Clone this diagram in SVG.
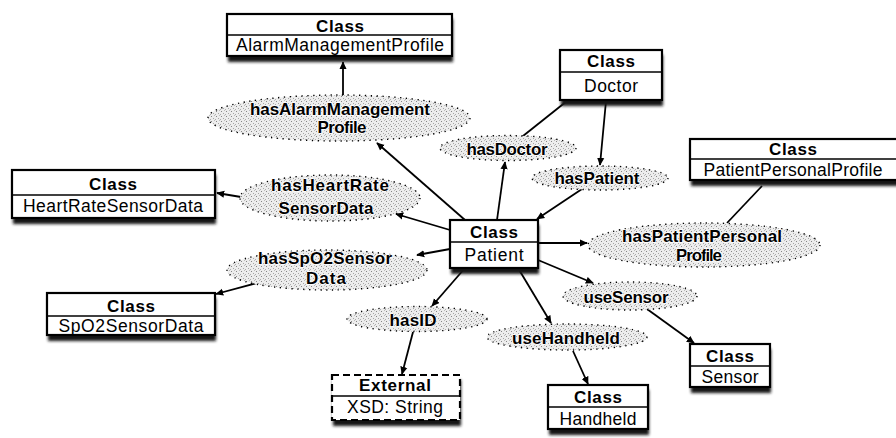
<svg xmlns="http://www.w3.org/2000/svg" width="896" height="438" viewBox="0 0 896 438">
  <style>
    .box { fill: #fff; stroke: #000; stroke-width: 2.2; }
    .ext { fill: #fff; stroke: #000; stroke-width: 2.2; stroke-dasharray: 7 4; }
    .shadow { fill: #141414; filter: url(#soft); }
    .div { stroke: #000; stroke-width: 1.3; }
    .hdr { font-family: "Liberation Sans", Arial, sans-serif; font-size: 17px; font-weight: bold; text-anchor: middle; fill: #000; }
    .nm { font-family: "Liberation Sans", Arial, sans-serif; font-size: 17.5px; text-anchor: middle; fill: #000; }
    .prop { fill: url(#grain); stroke: #000; stroke-width: 1.4; stroke-dasharray: 1.3 4.5; }
    .pl { font-family: "Liberation Sans", Arial, sans-serif; font-size: 17px; font-weight: bold; text-anchor: middle; fill: #000; stroke: #fff; stroke-width: 1.6; paint-order: stroke; stroke-linejoin: round; }
    .edge { fill: none; stroke: #000; stroke-width: 1.8; }
    .arr { marker-end: url(#head); }
  </style>
  <defs>
    <filter id="soft" x="-10%" y="-30%" width="120%" height="160%">
      <feGaussianBlur stdDeviation="1.5"/>
    </filter>
    <pattern id="grain" width="5" height="5" patternUnits="userSpaceOnUse">
      <rect width="5" height="5" fill="#ededed"/>
      <rect x="1" y="1" width="1" height="1" fill="#878787"/>
      <rect x="3" y="3" width="1" height="1" fill="#a6a6a6"/>
      <rect x="4" y="0" width="1" height="1" fill="#bcbcbc"/>
      <rect x="0" y="4" width="1" height="1" fill="#adadad"/>
    </pattern>
    <marker id="head" viewBox="0 0 10 10" refX="9" refY="5" markerWidth="8" markerHeight="8" markerUnits="userSpaceOnUse" orient="auto">
      <path d="M0,0.5 L10,5 L0,9.5 z" fill="#000"/>
    </marker>
  </defs>

  <rect width="896" height="438" fill="#fff"/>

  <!-- connectors -->
  <g id="connectors">
    <line class="edge arr" x1="343" y1="95" x2="343" y2="62"/>
    <line class="edge arr" x1="465" y1="220" x2="377" y2="143"/>
    <line class="edge" x1="567" y1="101" x2="523" y2="136"/>
    <line class="edge arr" x1="497" y1="220" x2="505" y2="162"/>
    <line class="edge arr" x1="606" y1="101" x2="600" y2="165"/>
    <line class="edge arr" x1="582" y1="189" x2="537" y2="219"/>
    <line class="edge arr" x1="450" y1="230" x2="396" y2="214"/>
    <line class="edge arr" x1="241" y1="197" x2="217" y2="193"/>
    <line class="edge arr" x1="450" y1="249" x2="417" y2="255"/>
    <line class="edge arr" x1="257" y1="283" x2="216" y2="294"/>
    <line class="edge arr" x1="465" y1="268" x2="432" y2="306"/>
    <line class="edge arr" x1="413" y1="332" x2="402" y2="374"/>
    <line class="edge arr" x1="518" y1="268" x2="551" y2="323"/>
    <line class="edge arr" x1="573" y1="351" x2="588" y2="384"/>
    <line class="edge arr" x1="538" y1="243" x2="587" y2="243"/>
    <line class="edge arr" x1="538" y1="260" x2="593" y2="283"/>
    <line class="edge arr" x1="647" y1="309" x2="694" y2="343"/>
    <line class="edge" x1="727" y1="223" x2="762" y2="186"/>
  </g>

  <!-- property nodes -->
  <g id="hasAlarmManagementProfile">
    <ellipse class="prop" cx="339" cy="118" rx="131" ry="23"/>
    <text class="pl" x="340" y="115" textLength="180">hasAlarmManagement</text>
    <text class="pl" x="342" y="133" textLength="49">Profile</text>
  </g>
  <g id="hasDoctor">
    <ellipse class="prop" cx="508" cy="148" rx="68" ry="12.5"/>
    <text class="pl" x="507" y="155" textLength="81">hasDoctor</text>
  </g>
  <g id="hasPatient">
    <ellipse class="prop" cx="600" cy="178" rx="68" ry="12"/>
    <text class="pl" x="597" y="184" textLength="85">hasPatient</text>
  </g>
  <g id="hasPatientPersonalProfile">
    <ellipse class="prop" cx="704" cy="245" rx="116" ry="22"/>
    <text class="pl" x="702" y="242" textLength="160">hasPatientPersonal</text>
    <text class="pl" x="699" y="261" textLength="46">Profile</text>
  </g>
  <g id="hasHeartRateSensorData">
    <ellipse class="prop" cx="330" cy="198" rx="90" ry="23"/>
    <text class="pl" x="330" y="191" textLength="118">hasHeartRate</text>
    <text class="pl" x="326" y="214" textLength="95">SensorData</text>
  </g>
  <g id="hasSpO2SensorData">
    <ellipse class="prop" cx="327" cy="270" rx="100" ry="20"/>
    <text class="pl" x="325" y="264" textLength="134">hasSpO2Sensor</text>
    <text class="pl" x="326" y="284" textLength="40">Data</text>
  </g>
  <g id="hasID">
    <ellipse class="prop" cx="417" cy="319" rx="70" ry="12.5"/>
    <text class="pl" x="413" y="326" textLength="47">hasID</text>
  </g>
  <g id="useSensor">
    <ellipse class="prop" cx="630" cy="296" rx="67" ry="14"/>
    <text class="pl" x="626" y="303" textLength="85">useSensor</text>
  </g>
  <g id="useHandheld">
    <ellipse class="prop" cx="567" cy="337" rx="80" ry="13"/>
    <text class="pl" x="566" y="344" textLength="108">useHandheld</text>
  </g>

  <!-- class nodes -->
  <g id="AlarmManagementProfile">
    <rect class="shadow" x="228" y="19" width="225" height="43"/>
    <rect class="box" x="227" y="14" width="225" height="42"/>
    <line class="div" x1="227" y1="35" x2="452" y2="35"/>
    <text class="hdr" x="340" y="32" textLength="48">Class</text>
    <text class="nm" x="340" y="51" textLength="208">AlarmManagementProfile</text>
  </g>
  <g id="Doctor">
    <rect class="shadow" x="561" y="55" width="102" height="51"/>
    <rect class="box" x="560" y="50" width="102" height="50"/>
    <line class="div" x1="560" y1="72" x2="662" y2="72"/>
    <text class="hdr" x="611" y="67" textLength="48">Class</text>
    <text class="nm" x="611" y="92" textLength="54">Doctor</text>
  </g>
  <g id="PatientPersonalProfile">
    <rect class="shadow" x="691" y="144" width="208" height="42"/>
    <rect class="box" x="690" y="139" width="208" height="41"/>
    <line class="div" x1="690" y1="159" x2="898" y2="159"/>
    <text class="hdr" x="793" y="155" textLength="48">Class</text>
    <text class="nm" x="793" y="176" textLength="179">PatientPersonalProfile</text>
  </g>
  <g id="HeartRateSensorData">
    <rect class="shadow" x="13" y="175" width="203" height="49"/>
    <rect class="box" x="12" y="170" width="203" height="48"/>
    <line class="div" x1="12" y1="195" x2="215" y2="195"/>
    <text class="hdr" x="113" y="190" textLength="48">Class</text>
    <text class="nm" x="113" y="212" textLength="180">HeartRateSensorData</text>
  </g>
  <g id="Patient">
    <rect class="shadow" x="451" y="225" width="88" height="49"/>
    <rect class="box" x="450" y="220" width="88" height="48"/>
    <line class="div" x1="450" y1="242" x2="538" y2="242"/>
    <text class="hdr" x="494" y="238" textLength="48">Class</text>
    <text class="nm" x="494" y="261" textLength="59">Patient</text>
  </g>
  <g id="SpO2SensorData">
    <rect class="shadow" x="48" y="298" width="168" height="43"/>
    <rect class="box" x="47" y="293" width="168" height="42"/>
    <line class="div" x1="47" y1="316" x2="215" y2="316"/>
    <text class="hdr" x="131" y="312" textLength="48">Class</text>
    <text class="nm" x="131" y="332" textLength="145">SpO2SensorData</text>
  </g>
  <g id="XSDString">
    <rect class="shadow" x="333" y="380" width="128" height="46"/>
    <rect class="ext" x="332" y="375" width="128" height="45"/>
    <line class="div" x1="332" y1="396" x2="460" y2="396"/>
    <text class="hdr" x="395" y="391" textLength="72">External</text>
    <text class="nm" x="395" y="413" textLength="96">XSD: String</text>
  </g>
  <g id="Handheld">
    <rect class="shadow" x="549" y="390" width="100" height="45"/>
    <rect class="box" x="548" y="385" width="100" height="44"/>
    <line class="div" x1="548" y1="407" x2="648" y2="407"/>
    <text class="hdr" x="598" y="403" textLength="48">Class</text>
    <text class="nm" x="598" y="425" textLength="77">Handheld</text>
  </g>
  <g id="Sensor">
    <rect class="shadow" x="691" y="349" width="80" height="44"/>
    <rect class="box" x="690" y="344" width="80" height="43"/>
    <line class="div" x1="690" y1="366" x2="770" y2="366"/>
    <text class="hdr" x="730" y="362" textLength="48">Class</text>
    <text class="nm" x="730" y="383" textLength="57">Sensor</text>
  </g>
</svg>
